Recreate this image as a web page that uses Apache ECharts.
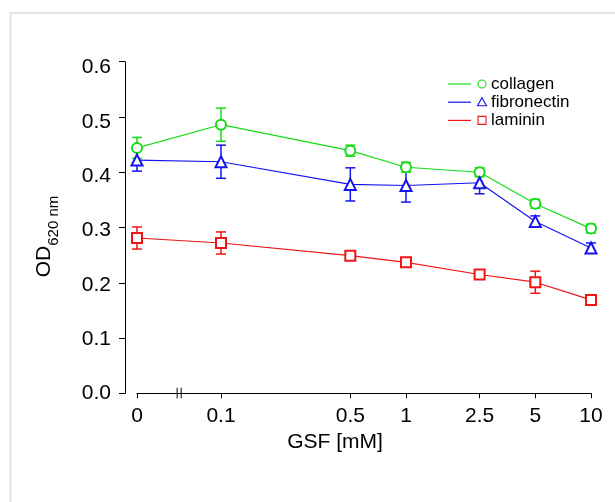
<!DOCTYPE html>
<html>
<head>
<meta charset="utf-8">
<script src="https://cdn.jsdelivr.net/npm/echarts@6/dist/echarts.min.js"></script>
<style>
html,body{margin:0;padding:0;background:#fff;}
#chart{width:615px;height:502px;}
</style>
</head>
<body>
<div id="chart"></div>
<script>
// ---- data ----
const concentrations = ['0', '0.1', '0.5', '1', '2.5', '5', '10'];
const concValues = [0, 0.1, 0.5, 1, 2.5, 5, 10];
const seriesNames = ['collagen', 'fibronectin', 'laminin'];
const collagen = [0.444, 0.486, 0.439, 0.409, 0.400, 0.343, 0.298];
const collagenErr = [0.019, 0.030, 0.010, 0.009, 0.008, 0.008, 0.008];
const fibronectin = [0.422, 0.419, 0.378, 0.376, 0.381, 0.311, 0.263];
const fibronectinErr = [0.020, 0.030, 0.030, 0.030, 0.020, 0.010, 0.009];
const laminin = [0.281, 0.272, 0.249, 0.237, 0.215, 0.201, 0.169];
const lamininErr = [0.020, 0.020, 0.006, 0.007, 0.008, 0.020, 0.007];
const yTicks = [0, 0.1, 0.2, 0.3, 0.4, 0.5, 0.6];

// ---- scale helpers (log axis with a break for 0) ----
const ZERO_POS = -1.454;            // log-position where "0" sits left of the break
const BREAK_POS = [-1.237, -1.215]; // break marks
function xPos(c) { return c === 0 ? ZERO_POS : Math.log10(c); }
const tickPositions = concValues.map(xPos);
function labelFor(v) {
  let best = 0, bd = Infinity;
  tickPositions.forEach((p, i) => { const d = Math.abs(p - v); if (d < bd) { bd = d; best = i; } });
  return concentrations[best];
}

const colors = ['#16dc16', '#1414f0', '#f01414'];
const values = [collagen, fibronectin, laminin];
const errs = [collagenErr, fibronectinErr, lamininErr];
const symbols = ['emptyCircle', 'emptyTriangle', 'emptyRect'];
const FONT = '"Liberation Sans", Arial, sans-serif';

const series = [];
values.forEach((vals, si) => {
  // error bars
  series.push({
    type: 'custom',
    name: seriesNames[si] + ' err',
    silent: true,
    z: 2,
    clip: false,
    data: vals.map((v, i) => [tickPositions[i], v - errs[si][i], v + errs[si][i]]),
    renderItem: function (params, api) {
      const x = api.value(0);
      const lo = api.coord([x, api.value(1)]);
      const hi = api.coord([x, api.value(2)]);
      const hw = 5;
      const st = { stroke: colors[si], lineWidth: 1.5 };
      return {
        type: 'group',
        children: [
          { type: 'line', shape: { x1: lo[0], y1: lo[1], x2: hi[0], y2: hi[1] }, style: st },
          { type: 'line', shape: { x1: lo[0] - hw, y1: lo[1], x2: lo[0] + hw, y2: lo[1] }, style: st },
          { type: 'line', shape: { x1: hi[0] - hw, y1: hi[1], x2: hi[0] + hw, y2: hi[1] }, style: st }
        ]
      };
    }
  });
  series.push({
    type: 'line',
    name: seriesNames[si],
    z: 3,
    data: vals.map((v, i) => [tickPositions[i], v]),
    symbol: symbols[si],
    symbolSize: si === 1 ? 11 : 10,
    showAllSymbol: true,
    lineStyle: { color: colors[si], width: 1.2 },
    itemStyle: { color: colors[si], borderWidth: 1 },
    emphasis: { disabled: true },
    animation: false
  });
});

// axis break marks
series.push({
  type: 'custom',
  silent: true,
  clip: false,
  z: 5,
  data: BREAK_POS.map(p => [p]),
  renderItem: function (params, api) {
    const p = api.coord([api.value(0), 0]);
    return { type: 'line', shape: { x1: p[0], y1: p[1] - 5.5, x2: p[0], y2: p[1] + 5 },
             style: { stroke: '#000', lineWidth: 1 } };
  }
});

// legend drawn as graphic items
const legendGraphics = [];
seriesNames.forEach((n, i) => {
  const y = 84 + i * 18.2;
  legendGraphics.push({ type: 'line', shape: { x1: 448, y1: y, x2: 471, y2: y }, style: { stroke: colors[i], lineWidth: 1.2 } });
  if (i === 0) legendGraphics.push({ type: 'circle', shape: { cx: 482, cy: y, r: 4 }, style: { fill: '#fff', stroke: colors[i], lineWidth: 1.1 } });
  if (i === 1) legendGraphics.push({ type: 'polygon', shape: { points: [[482, y - 4.5], [486.5, y + 3.5], [477.5, y + 3.5]] }, style: { fill: '#fff', stroke: colors[i], lineWidth: 1.1 } });
  if (i === 2) legendGraphics.push({ type: 'rect', shape: { x: 478, y: y - 4, width: 8, height: 8 }, style: { fill: '#fff', stroke: colors[i], lineWidth: 1.1 } });
  legendGraphics.push({ type: 'text', x: 491, y: y, style: { text: n, font: '17px ' + FONT, fill: '#000', textVerticalAlign: 'middle', verticalAlign: 'middle' } });
});

const chart = echarts.init(document.getElementById('chart'));
chart.setOption({
  animation: false,
  backgroundColor: '#fff',
  grid: { left: 137, right: 24, top: 61.7, bottom: 108.7, containLabel: false },
  xAxis: {
    type: 'value',
    min: ZERO_POS,
    max: 1,
    name: 'GSF [mM]',
    nameLocation: 'middle',
    nameGap: 38,
    nameTextStyle: { fontSize: 21, color: '#000', fontFamily: FONT, padding: [0, 58, 0, 0] },
    axisLine: { show: true, onZero: false, lineStyle: { color: '#000', width: 1 } },
    axisTick: { show: true, inside: false, length: 5, customValues: tickPositions, lineStyle: { color: '#000' } },
    axisLabel: { customValues: tickPositions, formatter: labelFor, fontSize: 21, color: '#000', fontFamily: FONT, margin: 12, showMinLabel: true, showMaxLabel: true },
    splitLine: { show: false }
  },
  yAxis: {
    type: 'value',
    min: 0,
    max: 0.6,
    interval: 0.1,
    offset: 12,
    name: '{a|OD}{b|620 nm}',
    nameLocation: 'middle',
    nameRotate: 90,
    nameGap: 70,
    nameTextStyle: {
      color: '#000', fontFamily: FONT,
      padding: [0, 18, 0, 0],
      rich: {
        a: { fontSize: 21, fontFamily: FONT, color: '#000', lineHeight: 26, verticalAlign: 'bottom' },
        b: { fontSize: 15, fontFamily: FONT, color: '#000', lineHeight: 26, verticalAlign: 'bottom', padding: [0, 0, -6, 0] }
      }
    },
    axisLine: { show: true, onZero: false, lineStyle: { color: '#000', width: 1 } },
    axisTick: { show: true, length: 6, lineStyle: { color: '#000' } },
    axisLabel: {
      formatter: v => '{s' + Math.round(v * 10) + '|' + v.toFixed(1) + '}',
      fontSize: 21, color: '#000', fontFamily: FONT, margin: 14,
      rich: {
        s0: { fontSize: 21, fontFamily: FONT, padding: [0, 0, 0, 0] },
        s1: { fontSize: 21, fontFamily: FONT, padding: [2, 0, 0, 0] },
        s2: { fontSize: 21, fontFamily: FONT, padding: [4, 0, 0, 0] },
        s3: { fontSize: 21, fontFamily: FONT, padding: [6, 0, 0, 0] },
        s4: { fontSize: 21, fontFamily: FONT, padding: [8, 0, 0, 0] },
        s5: { fontSize: 21, fontFamily: FONT, padding: [10, 0, 0, 0] },
        s6: { fontSize: 21, fontFamily: FONT, padding: [12, 0, 0, 0] }
      }
    },
    splitLine: { show: false }
  },
  graphic: [
    { type: 'rect', silent: true, z: -1, shape: { x: 10.5, y: 13, width: 700, height: 600 }, style: { fill: 'none', stroke: '#e3e3e3', lineWidth: 2 } }
  ].concat(legendGraphics),
  series: series
});
</script>
</body>
</html>
